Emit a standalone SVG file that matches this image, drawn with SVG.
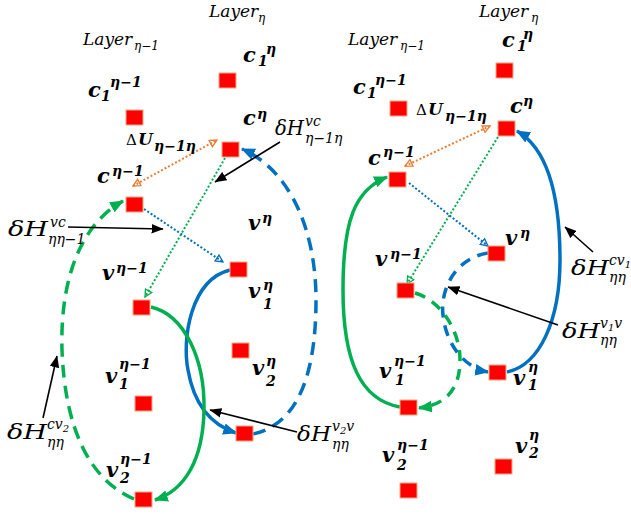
<svg xmlns="http://www.w3.org/2000/svg" width="631" height="514" viewBox="0 0 631 514">
<style>
.sq{fill:#FF0000;stroke:#F4A582;stroke-width:1}
.it{font-family:"DejaVu Serif","Liberation Serif",serif;font-style:italic;fill:#000}
.lay{font-size:17px}
.ls{font-size:12px}
.dh{font-size:20px}
.ds{font-size:14px}
.dss{font-size:10px}
.bi{font-family:"DejaVu Serif","Liberation Serif",serif;font-style:italic;font-weight:bold;font-size:21px;fill:#000}
.bs{font-size:14px}
.du{font-size:17px;font-weight:bold}
.dl{font-size:15px;font-style:normal}
.dot{fill:none;stroke-width:2;stroke-dasharray:2 2}
.o{stroke:#ED7D31}
.g{stroke:#00B050}
.b{stroke:#0070C0}
.thk{fill:none;stroke-width:3.5}
.dsh{stroke-dasharray:13 8}
.blk{stroke:#000;stroke-width:1.6;fill:none}
</style>
<defs>
<marker id="hB" viewBox="0 0 12 10" refX="11" refY="5" markerWidth="14" markerHeight="12" orient="auto" markerUnits="userSpaceOnUse"><path d="M0,0 L12,5 L0,10 Z" fill="#0070C0"/></marker>
<marker id="hG" viewBox="0 0 12 10" refX="11" refY="5" markerWidth="14" markerHeight="12" orient="auto" markerUnits="userSpaceOnUse"><path d="M0,0 L12,5 L0,10 Z" fill="#00B050"/></marker>
<marker id="hK" viewBox="0 0 10 8" refX="9.5" refY="4" markerWidth="12" markerHeight="10" orient="auto" markerUnits="userSpaceOnUse"><path d="M0,0 L10,4 L0,8 Z" fill="#000"/></marker>
<marker id="oO" viewBox="0 0 10 10" refX="9" refY="5" markerWidth="9" markerHeight="9" orient="auto-start-reverse" markerUnits="userSpaceOnUse"><path d="M1,1 L9,5 L1,9 Z" fill="none" stroke="#ED7D31" stroke-width="1.5"/></marker>
<marker id="oG" viewBox="0 0 10 10" refX="9" refY="5" markerWidth="9" markerHeight="9" orient="auto" markerUnits="userSpaceOnUse"><path d="M1,1 L9,5 L1,9 Z" fill="none" stroke="#00B050" stroke-width="1.5"/></marker>
<marker id="oB" viewBox="0 0 10 10" refX="9" refY="5" markerWidth="9" markerHeight="9" orient="auto" markerUnits="userSpaceOnUse"><path d="M1,1 L9,5 L1,9 Z" fill="none" stroke="#0070C0" stroke-width="1.5"/></marker>
</defs>
<rect width="631" height="514" fill="#fff"/>

<!-- layer titles -->
<g id="layer-titles">
<text class="it lay" x="209" y="17">Layer<tspan class="ls" x="258" y="22">η</tspan></text>
<text class="it lay" x="83" y="45">Layer<tspan class="ls" x="134" y="50">η−1</tspan></text>
<text class="it lay" x="479" y="17">Layer<tspan class="ls" x="531" y="22">η</tspan></text>
<text class="it lay" x="348" y="45">Layer<tspan class="ls" x="400" y="50">η−1</tspan></text>
</g>

<!-- connectors -->
<g id="connectors">
<!-- left panel -->
<line class="dot o" x1="133" y1="186" x2="217" y2="140" marker-start="url(#oO)" marker-end="url(#oO)"/>
<line class="dot g" x1="225" y1="158" x2="145" y2="297" marker-end="url(#oG)"/>
<line class="dot b" x1="144" y1="209" x2="223" y2="262" marker-end="url(#oB)"/>
<path class="thk b dsh" d="M 253 434 C 295 425, 316 380, 316 300 C 316 230, 290 170, 242 149" marker-end="url(#hB)"/>
<path class="thk b" stroke-width="3" d="M 230 270 C 190 280, 182 340, 188 370 C 194 405, 212 425, 236 433" marker-end="url(#hB)"/>
<path class="thk g" d="M 151 307 C 185 315, 205 360, 204 410 C 203 460, 185 490, 155 500" marker-end="url(#hG)"/>
<path class="thk g dsh" d="M 134 499 C 90 480, 65 430, 62 350 C 60 280, 80 225, 123 201" marker-end="url(#hG)"/>
<line class="blk" x1="280" y1="142" x2="215" y2="182" marker-end="url(#hK)"/>
<line class="blk" x1="68" y1="227" x2="163" y2="229" marker-end="url(#hK)"/>
<line class="blk" x1="43" y1="418" x2="57" y2="356" marker-end="url(#hK)"/>
<line class="blk" x1="297" y1="432" x2="210" y2="410" marker-end="url(#hK)"/>
<!-- right panel -->
<line class="dot o" x1="405" y1="166" x2="490" y2="126" marker-start="url(#oO)" marker-end="url(#oO)"/>
<line class="dot g" x1="498" y1="137" x2="407" y2="284" marker-end="url(#oG)"/>
<line class="dot b" x1="409" y1="183" x2="488" y2="246" marker-end="url(#oB)"/>
<path class="thk b" stroke-width="4" d="M 507 372 C 540 365, 560 320, 560 260 C 560 200, 550 150, 517 131" marker-end="url(#hB)"/>
<path class="thk b" stroke-dasharray="11 8" d="M 488 253 C 455 258, 440 290, 443 315 C 446 345, 465 368, 488 372" marker-end="url(#hB)"/>
<path class="thk g" stroke-dasharray="11 8" d="M 415 293 C 440 300, 460 330, 460 360 C 460 390, 445 405, 419 408" marker-end="url(#hG)"/>
<path class="thk g" d="M 400 407 C 360 400, 343 360, 343 290 C 343 220, 355 190, 387 177" marker-end="url(#hG)"/>
<line class="blk" x1="593" y1="252" x2="565" y2="227" marker-end="url(#hK)"/>
<line class="blk" x1="558" y1="325" x2="448" y2="287" marker-end="url(#hK)"/>
</g>

<!-- edge labels -->
<g id="edge-labels">
<text class="it"><tspan class="dl" x="126" y="145">Δ</tspan><tspan class="du" x="138" y="145">U</tspan><tspan class="bs" font-weight="bold" x="154" y="151">η−1η</tspan></text>
<text class="it"><tspan class="dl" x="416" y="115">Δ</tspan><tspan class="du" x="428" y="115">U</tspan><tspan class="bs" font-weight="bold" x="445" y="121">η−1η</tspan></text>
<text class="it"><tspan class="dh" x="275" y="135" textLength="29" lengthAdjust="spacingAndGlyphs">δH</tspan><tspan class="ds" x="305" y="126">vc</tspan><tspan class="ds" x="305" y="143">η−1η</tspan></text>
<text class="it"><tspan class="dh" x="8" y="236" textLength="40" lengthAdjust="spacingAndGlyphs">δH</tspan><tspan class="ds" x="50" y="227">vc</tspan><tspan class="ds" x="48" y="244">ηη−1</tspan></text>
<text class="it"><tspan class="dh" x="7" y="439" textLength="40" lengthAdjust="spacingAndGlyphs">δH</tspan><tspan class="ds" x="47" y="429">cv</tspan><tspan class="dss" dy="3">2</tspan><tspan class="ds" x="47" y="447">ηη</tspan></text>
<text class="it"><tspan class="dh" x="297" y="441" textLength="34" lengthAdjust="spacingAndGlyphs">δH</tspan><tspan class="ds" x="332" y="431">v</tspan><tspan class="dss" dy="3">2</tspan><tspan class="ds" dy="-3">v</tspan><tspan class="ds" x="332" y="449">ηη</tspan></text>
<text class="it"><tspan class="dh" x="571" y="275" textLength="38" lengthAdjust="spacingAndGlyphs">δH</tspan><tspan class="ds" x="609" y="265" font-size="13">cv</tspan><tspan class="dss" dy="3" font-size="9">1</tspan><tspan class="ds" x="609" y="282">ηη</tspan></text>
<text class="it"><tspan class="dh" x="562" y="338" textLength="38" lengthAdjust="spacingAndGlyphs">δH</tspan><tspan class="ds" x="600" y="328">v</tspan><tspan class="dss" dy="3">1</tspan><tspan class="ds" dy="-3">v</tspan><tspan class="ds" x="600" y="345">ηη</tspan></text>
</g>

<!-- left panel nodes -->
<g id="L-c1-eta"><rect class="sq" x="219" y="73" width="17" height="15"/><text class="bi" x="243" y="62">c<tspan class="bs" x="258" y="66">1</tspan><tspan class="bs" x="266" y="54">η</tspan></text></g>
<g id="L-c1-eta-1"><rect class="sq" x="126" y="110" width="17" height="15"/><text class="bi" x="88" y="97">c<tspan class="bs" x="101" y="101">1</tspan><tspan class="bs" x="110" y="87">η−1</tspan></text></g>
<g id="L-c-eta"><rect class="sq" x="222" y="142" width="17" height="15"/><text class="bi" x="243" y="125">c<tspan class="bs" x="257" y="119">η</tspan></text></g>
<g id="L-c-eta-1"><rect class="sq" x="126" y="197" width="17" height="15"/><text class="bi" x="97" y="183">c<tspan class="bs" x="112" y="176">η−1</tspan></text></g>
<g id="L-v-eta"><rect class="sq" x="230" y="262" width="17" height="15"/><text class="bi" x="248" y="230">v<tspan class="bs" x="262" y="223">η</tspan></text></g>
<g id="L-v-eta-1"><rect class="sq" x="133" y="300" width="17" height="15"/><text class="bi" x="102" y="280">v<tspan class="bs" x="116" y="273">η−1</tspan></text></g>
<g id="L-v1-eta"><text class="bi" x="248" y="298">v<tspan class="bs" x="263" y="290">η</tspan><tspan class="bs" x="263" y="309">1</tspan></text></g>
<g id="L-v2-eta"><rect class="sq" x="232" y="343" width="17" height="15"/><text class="bi" x="252" y="375">v<tspan class="bs" x="266" y="366">η</tspan><tspan class="bs" x="266" y="386">2</tspan></text></g>
<g id="L-v1-eta-1"><rect class="sq" x="135" y="396" width="17" height="15"/><text class="bi" x="105" y="383">v<tspan class="bs" x="119" y="369">η−1</tspan><tspan class="bs" x="119" y="389">1</tspan></text></g>
<g id="L-v-bottom"><rect class="sq" x="236" y="426" width="17" height="15"/></g>
<g id="L-v2-eta-1"><rect class="sq" x="135" y="492" width="17" height="15"/><text class="bi" x="106" y="477">v<tspan class="bs" x="120" y="464">η−1</tspan><tspan class="bs" x="120" y="483">2</tspan></text></g>

<!-- right panel nodes -->
<g id="R-c1-eta"><rect class="sq" x="496" y="63" width="17" height="15"/><text class="bi" x="502" y="47">c<tspan class="bs" x="517" y="51">1</tspan><tspan class="bs" x="523" y="39">η</tspan></text></g>
<g id="R-c1-eta-1"><rect class="sq" x="390" y="101" width="17" height="15"/><text class="bi" x="353" y="94">c<tspan class="bs" x="367" y="98">1</tspan><tspan class="bs" x="375" y="85">η−1</tspan></text></g>
<g id="R-c-eta"><rect class="sq" x="498" y="121" width="17" height="15"/><text class="bi" x="510" y="113">c<tspan class="bs" x="523" y="106">η</tspan></text></g>
<g id="R-c-eta-1"><rect class="sq" x="389" y="172" width="17" height="15"/><text class="bi" x="368" y="165">c<tspan class="bs" x="383" y="157">η−1</tspan></text></g>
<g id="R-v-eta"><rect class="sq" x="488" y="246" width="17" height="15"/><text class="bi" x="505" y="245">v<tspan class="bs" x="520" y="238">η</tspan></text></g>
<g id="R-v-eta-1"><rect class="sq" x="397" y="283" width="17" height="15"/><text class="bi" x="375" y="266">v<tspan class="bs" x="390" y="259">η−1</tspan></text></g>
<g id="R-v1-eta"><rect class="sq" x="489" y="365" width="17" height="15"/><text class="bi" x="513" y="385">v<tspan class="bs" x="528" y="372">η</tspan><tspan class="bs" x="528" y="390">1</tspan></text></g>
<g id="R-v1-eta-1"><rect class="sq" x="400" y="400" width="17" height="15"/><text class="bi" x="379" y="378">v<tspan class="bs" x="394" y="366">η−1</tspan><tspan class="bs" x="395" y="385">1</tspan></text></g>
<g id="R-v2-eta"><rect class="sq" x="495" y="459" width="17" height="15"/><text class="bi" x="515" y="453">v<tspan class="bs" x="529" y="440">η</tspan><tspan class="bs" x="529" y="458">2</tspan></text></g>
<g id="R-v2-eta-1"><rect class="sq" x="400" y="483" width="17" height="15"/><text class="bi" x="382" y="462">v<tspan class="bs" x="397" y="450">η−1</tspan><tspan class="bs" x="397" y="470">2</tspan></text></g>
</svg>
